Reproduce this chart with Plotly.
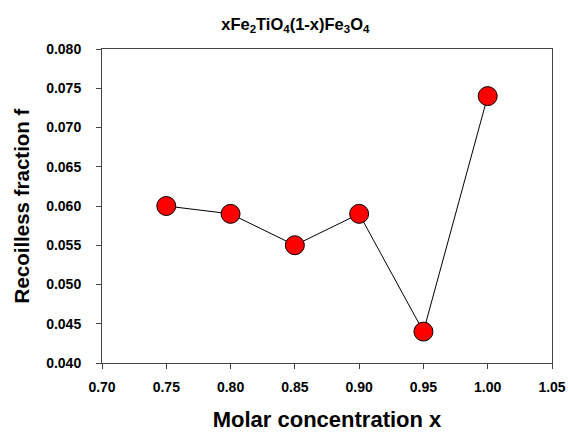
import plotly.graph_objects as go

x_vals = [0.75, 0.80, 0.85, 0.90, 0.95, 1.00]
f_vals = [0.060, 0.059, 0.055, 0.059, 0.044, 0.074]
x_ticks = [0.70, 0.75, 0.80, 0.85, 0.90, 0.95, 1.00, 1.05]
y_ticks = [0.040, 0.045, 0.050, 0.055, 0.060, 0.065, 0.070, 0.075, 0.080]

fig = go.Figure()
fig.add_trace(go.Scatter(
    x=x_vals, y=f_vals, mode="lines+markers",
    line=dict(color="black", width=1),
    marker=dict(size=19, color="#ff0000", line=dict(color="black", width=1)),
    showlegend=False,
))

fig.update_layout(
    width=568, height=432,
    margin=dict(l=102, r=16, t=49, b=69),
    paper_bgcolor="white", plot_bgcolor="white",
    font=dict(family="Liberation Sans, Arial, sans-serif", color="black"),
    title=dict(text="<b>xFe<sub>2</sub>TiO<sub>4</sub>(1-x)Fe<sub>3</sub>O<sub>4</sub></b>",
               xref="container", x=0.52, xanchor="center",
               yref="container", y=0.945, yanchor="middle",
               font=dict(size=16.5)),
    xaxis=dict(range=[0.70, 1.05], tickvals=x_ticks,
               ticktext=[f"<b>{v:.2f}</b>" for v in x_ticks],
               ticks="outside", ticklen=5, tickcolor="#444", tickwidth=1,
               ticklabelstandoff=6, automargin=False,
               showline=True, linecolor="#444", linewidth=1, mirror=True,
               showgrid=False, zeroline=False,
               tickfont=dict(size=14),
               title=dict(text="<b>Molar concentration x</b>", font=dict(size=22), standoff=18)),
    yaxis=dict(range=[0.040, 0.080], tickvals=y_ticks,
               ticktext=[f"<b>{v:.3f}</b>" for v in y_ticks],
               ticks="outside", ticklen=5, tickcolor="#444", tickwidth=1,
               ticklabelstandoff=12, automargin=False,
               showline=True, linecolor="#444", linewidth=1, mirror=True,
               showgrid=False, zeroline=False,
               tickfont=dict(size=14),
               title=dict(text="<b>Recoilless fraction f</b>", font=dict(size=20.5), standoff=10)),
)

fig.write_html("out.html")
